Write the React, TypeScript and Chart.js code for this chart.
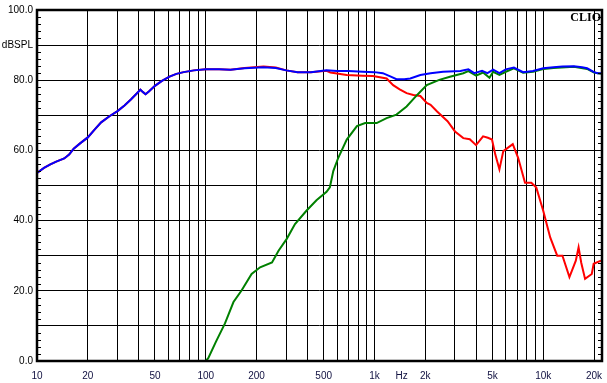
import React, { useEffect, useRef } from "react";
import { Chart, registerables } from "chart.js";

Chart.register(...registerables);

// Frequency response data (Hz, dBSPL)
const BLUE_FREQ = [10, 11, 12, 13, 14.5, 15.5, 16.5, 18, 20, 22, 24, 27, 30, 33, 36, 39, 41, 42.5, 44, 46, 50, 55, 61, 67, 74, 85, 100, 120, 140, 170, 220, 260, 300, 350, 420, 520, 600, 700, 850, 1000, 1120, 1250, 1350, 1500, 1630, 1870, 2150, 2550, 3230, 3600, 3900, 4340, 4670, 5050, 5500, 6000, 6700, 7600, 8700, 10000, 11500, 13000, 15200, 17000, 18200, 20000, 21000, 22000];
const BLUE_DB = [53.6, 55.0, 56.0, 56.8, 57.7, 58.8, 60.5, 62.0, 63.7, 66.0, 68.0, 69.8, 71.2, 72.8, 74.5, 76.2, 77.3, 76.6, 76.0, 76.8, 78.4, 79.8, 81.0, 81.8, 82.3, 82.8, 83.1, 83.1, 83.0, 83.4, 83.7, 83.5, 82.8, 82.3, 82.3, 82.8, 82.6, 82.6, 82.4, 82.3, 82.0, 81.0, 80.3, 80.3, 80.5, 81.5, 82.0, 82.4, 82.6, 83.1, 82.0, 82.7, 82.0, 83.0, 82.0, 83.1, 83.6, 82.3, 82.6, 83.4, 83.7, 83.9, 84.0, 83.7, 83.4, 82.3, 82.0, 82.0];

const RED_FREQ = [10, 11, 12, 13, 14.5, 15.5, 16.5, 18, 20, 22, 24, 27, 30, 33, 36, 39, 41, 42.5, 44, 46, 50, 55, 61, 67, 74, 85, 100, 120, 140, 170, 220, 260, 300, 350, 420, 520, 548, 685, 850, 980, 1180, 1290, 1410, 1550, 1700, 1870, 2040, 2150, 2350, 2710, 3000, 3360, 3670, 4000, 4400, 4700, 4970, 5200, 5500, 5800, 6600, 7100, 7800, 8500, 9100, 10000, 11000, 12100, 13000, 14300, 15600, 16200, 16800, 17700, 19400, 19900, 22000];
const RED_DB = [53.6, 55.0, 56.0, 56.8, 57.7, 58.8, 60.5, 62.0, 63.7, 66.0, 68.0, 69.8, 71.2, 72.8, 74.5, 76.2, 77.3, 76.6, 76.0, 76.8, 78.4, 79.8, 81.0, 81.8, 82.3, 82.8, 83.1, 83.1, 83.0, 83.5, 83.9, 83.6, 82.8, 82.3, 82.3, 82.7, 82.2, 81.5, 81.3, 81.2, 80.5, 78.6, 77.4, 76.3, 75.8, 75.5, 73.5, 73.0, 71.1, 68.3, 65.4, 63.5, 63.2, 61.5, 64.0, 63.6, 63.1, 58.8, 54.6, 59.8, 61.8, 57.9, 50.8, 50.8, 49.4, 42.8, 35.2, 30.0, 30.0, 23.9, 28.6, 32.4, 28.0, 23.4, 24.8, 27.7, 28.6];

const GREEN_FREQ = [100, 103.5, 115, 130, 146, 163, 187, 210, 247, 270, 302, 338, 395, 453, 520, 544, 570, 610, 685, 787, 880, 1030, 1180, 1350, 1550, 1790, 2040, 2420, 2800, 3360, 3600, 4000, 4400, 4800, 5050, 5500, 6000, 6700, 7600, 8700, 10000, 11500, 15200, 18200, 20000, 22000];
const GREEN_DB = [0, 0.8, 5.5, 10.7, 16.8, 20.1, 24.8, 26.7, 28.1, 31.4, 34.8, 39.0, 42.8, 45.8, 48.2, 49.5, 54.1, 57.9, 63.1, 66.9, 67.8, 67.8, 69.2, 70.2, 72.5, 75.8, 78.6, 80.1, 81.0, 82.0, 82.6, 81.3, 82.2, 80.7, 82.4, 81.5, 82.4, 83.4, 82.1, 82.4, 83.2, 83.5, 83.8, 83.2, 82.2, 81.8];

const X_GRID = [10, 20, 30, 40, 50, 60, 70, 80, 90, 100, 200, 300, 400, 500, 600, 700, 800, 900, 1000, 2000, 3000, 4000, 5000, 6000, 7000, 8000, 9000, 10000, 20000];
const HZ_POS = 1450;
const X_LABEL_VALUES = [10, 20, 50, 100, 200, 500, 1000, HZ_POS, 2000, 5000, 10000, 20000];
const X_LABEL_TEXT = ["10", "20", "50", "100", "200", "500", "1k", "Hz", "2k", "5k", "10k", "20k"];
const Y_LABEL_VALUES = [0, 20, 40, 60, 80, 90, 100];
const Y_LABEL_TEXT = ["0.0", "20.0", "40.0", "60.0", "80.0", "dBSPL", "100.0"];

const toPoints = (f: number[], d: number[]) => f.map((x, i) => ({ x, y: d[i] }));

const framePlugin = {
  id: "frame",
  afterDraw(chart: any) {
    const { ctx, chartArea } = chart;
    const { left, right, top, bottom } = chartArea;
    const y = chart.scales.y;
    ctx.save();
    ctx.strokeStyle = "#000";
    ctx.lineWidth = 1;
    ctx.beginPath();
    for (let v = 0; v <= 100; v += 2) {
      if (v % 10 === 0) continue;
      const py = Math.round(y.getPixelForValue(v)) + 0.5;
      ctx.moveTo(left, py);
      ctx.lineTo(left + 4, py);
      ctx.moveTo(right - 4, py);
      ctx.lineTo(right, py);
    }
    ctx.stroke();
    ctx.lineWidth = 2.5;
    ctx.strokeRect(left, top, right - left, bottom - top);
    ctx.fillStyle = "#000";
    ctx.font = "bold 12px 'Liberation Serif', serif";
    ctx.textAlign = "right";
    ctx.textBaseline = "top";
    ctx.fillText("CLIO", right - 1, top + 2);
    ctx.restore();
  },
};

export default function App() {
  const ref = useRef<HTMLCanvasElement>(null);
  useEffect(() => {
    document.body.style.margin = "0";
    const chart = new Chart(ref.current!, {
      type: "line",
      data: {
        datasets: [
          { data: toPoints(BLUE_FREQ, BLUE_DB), borderColor: "#0000ff", borderWidth: 2, pointRadius: 0 },
          { data: toPoints(GREEN_FREQ, GREEN_DB), borderColor: "#008000", borderWidth: 2, pointRadius: 0 },
          { data: toPoints(RED_FREQ, RED_DB), borderColor: "#ff0000", borderWidth: 2, pointRadius: 0 },
        ],
      },
      options: {
        animation: false,
        responsive: true,
        maintainAspectRatio: false,
        layout: { padding: { top: 8, right: 5, left: 0, bottom: 0 } },
        plugins: { legend: { display: false }, tooltip: { enabled: false } },
        scales: {
          x: {
            type: "logarithmic",
            min: 10,
            max: 22300,
            border: { display: false },
            afterBuildTicks: (scale: any) => {
              scale.ticks = [...X_GRID, HZ_POS].sort((a, b) => a - b).map((v) => ({ value: v }));
            },
            afterFit: (scale: any) => {
              scale.height = 22;
              scale.paddingLeft = 0;
              scale.paddingRight = 0;
            },
            grid: {
              drawTicks: false,
              lineWidth: 1,
              color: (c: any) => (c.tick && c.tick.value === HZ_POS ? "rgba(0,0,0,0)" : "#000"),
            },
            ticks: {
              autoSkip: false,
              maxRotation: 0,
              padding: 9,
              color: "#101040",
              font: { family: "'Liberation Sans', Arial, sans-serif", size: 10 },
              callback: (v: any) => {
                const i = X_LABEL_VALUES.indexOf(Number(v));
                return i >= 0 ? X_LABEL_TEXT[i] : "";
              },
            },
          },
          y: {
            min: 0,
            max: 100,
            border: { display: false },
            afterFit: (scale: any) => {
              scale.width = 37;
            },
            grid: { drawTicks: false, color: "#000", lineWidth: 1 },
            ticks: {
              stepSize: 10,
              padding: 4,
              color: "#000",
              font: { family: "'Liberation Sans', Arial, sans-serif", size: 10 },
              callback: (v: any) => {
                const i = Y_LABEL_VALUES.indexOf(Number(v));
                return i >= 0 ? Y_LABEL_TEXT[i] : "";
              },
            },
          },
        },
      },
      plugins: [framePlugin],
    });
    return () => chart.destroy();
  }, []);
  return (
    <div style={{ position: "relative", width: 607, height: 383, background: "#fff" }}>
      <canvas ref={ref} />
    </div>
  );
}
